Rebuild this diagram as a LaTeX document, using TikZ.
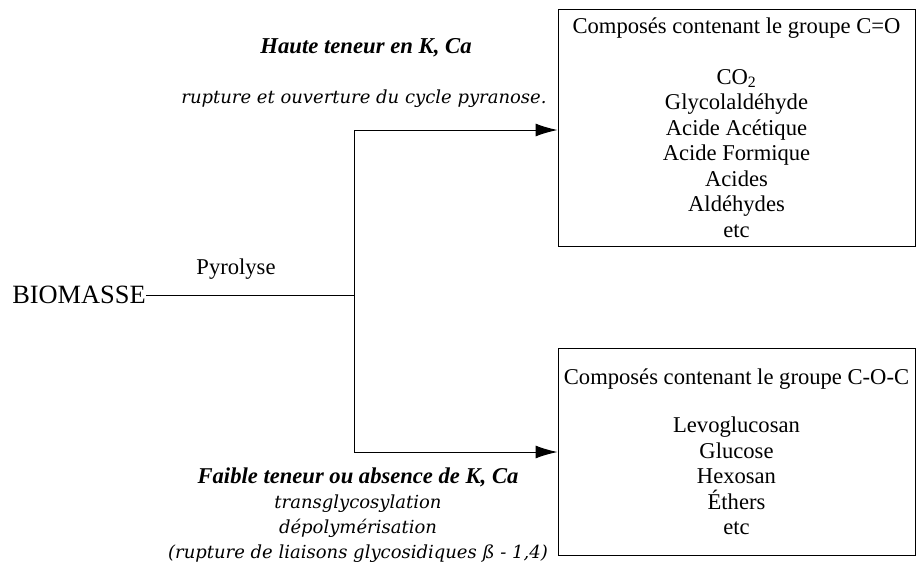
\documentclass[tikz,border=0pt]{standalone}
\usepackage{fontspec}
\setmainfont{Liberation Serif}
\newfontfamily\descfont{DejaVu Serif}
\usetikzlibrary{arrows.meta}

\begin{document}
\begin{tikzpicture}[x=1pt, y=-1pt,
    every node/.style={inner sep=0pt, font=\fontsize{22.6}{25.5}\selectfont},
    produit/.style={draw, line width=1pt, minimum width=357pt, align=center},
    desc/.style={align=center, font=\descfont\itshape\fontsize{18}{25}\selectfont}]
            \useasboundingbox (0,0) rectangle (916,566);

            \node[font=\fontsize{26.4}{30}\selectfont] (bio) at (79,295) {BIOMASSE};
            \node (pyro) at (236,269) {Pyrolyse};
            \coordinate (split) at (354,295);
            \coordinate (haut) at (354,130);
            \coordinate (bas) at (354,452);

            \node[produit, minimum height=237pt] (co) at (736.5,127.5)
                {Composés contenant le groupe C=O\\[25.5pt] CO\textsubscript{2}\\ Glycolaldéhyde\\ Acide Acétique\\ Acide Formique\\ Acides\\ Aldéhydes\\ etc};
            \node[produit, minimum height=207pt] (coc) at (736.5,451.5)
                {Composés contenant le groupe C-O-C\\[23pt] Levoglucosan\\ Glucose\\ Hexosan\\ Éthers\\ etc};

            \node[font=\bfseries\itshape\fontsize{22.7}{25}\selectfont] (hautK) at (366,48) {Haute teneur en K, Ca};
            \node[desc] (cycle) at (364,99) {rupture et ouverture du cycle pyranose.};
            \node[desc] (basK) at (358,515)
                {{\rmfamily\bfseries\fontsize{22.6}{25}\selectfont Faible teneur ou absence de K, Ca}\\ transglycosylation\\ dépolymérisation\\ (rupture de liaisons glycosidiques ß - 1,4)};

            \draw[line width=1pt] (bio.east) -- (split);
            \draw[line width=1pt] (haut) -- (bas);
            \draw[->, >={Latex[length=22pt, width=13pt]}, line width=1pt] (haut) -- (co.west |- haut);
            \draw[->, >={Latex[length=22pt, width=13pt]}, line width=1pt] (bas) -- (coc.west |- bas);
        \end{tikzpicture}
\end{document}
